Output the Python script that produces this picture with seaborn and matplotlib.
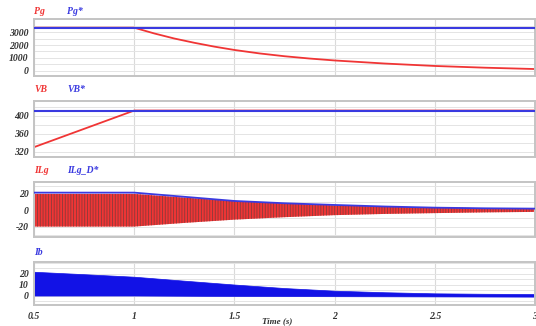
import numpy as np
import pandas as pd
import seaborn as sns
import matplotlib.pyplot as plt
from matplotlib.ticker import MultipleLocator

sns.set_theme(style="white")
plt.rcParams['font.family'] = ['Liberation Serif', 'DejaVu Serif']
plt.rcParams['hatch.linewidth'] = 0.6
plt.rcParams['axes.unicode_minus'] = False

# values
t_pg = [0.5, 1.0, 1.1, 1.2, 1.3, 1.4, 1.5, 1.625, 1.75, 1.875, 2.0, 2.25, 2.5, 2.75, 3.0]
pg = [3360, 3360, 2910, 2515, 2180, 1880, 1620, 1350, 1130, 950, 800, 560, 370, 235, 130]
pg_ref = 3360

t_vb = [0.5, 1.0, 3.0]
vb = [330, 412, 412]
vb_ref = 412

t_ilg = [0.5, 1.0, 1.25, 1.5, 1.75, 2.0, 2.25, 2.5, 2.75, 3.0]
ilg_amp = [20, 20, 15.5, 11.5, 8.5, 6.0, 4.5, 3.5, 2.6, 2.0]
ilg_ref = [21.6, 21.6, 16.5, 11.4, 8.6, 6.5, 4.6, 3.2, 2.4, 2.0]

t_ib = [0.5, 0.75, 1.0, 1.25, 1.5, 1.75, 2.0, 2.25, 2.5, 2.75, 3.0]
ib_hi = [21.6, 19.4, 17.1, 13.5, 10.0, 6.8, 4.4, 3.0, 2.0, 1.6, 1.4]
ib_lo = [0.0, 0.0, 0.0, -0.2, -0.4, -0.5, -0.6, -0.7, -0.8, -0.9, -1.0]

xticks = [0.5, 1, 1.5, 2, 2.5, 3]
xticklabels = ['0.5', '1', '1.5', '2', '2.5', '3']
pg_ticks = [0, 1000, 2000, 3000]
vb_ticks = [320, 360, 400]
ilg_ticks = [-20, 0, 20]
ib_ticks = [0, 10, 20]

RED = '#f03535'
BLUE = '#3a3ae0'
W, H = 536, 326

fig = plt.figure(figsize=(W / 100, H / 100), dpi=100)

def make_ax(top, bottom):
    return fig.add_axes([34 / W, 1 - bottom / H, 501 / W, (bottom - top) / H])

ax1 = make_ax(19.3, 76)
ax2 = make_ax(100.7, 157)
ax3 = make_ax(181.7, 236.7)
ax4 = make_ax(262.3, 305)

tfont = dict(fontsize=7, fontweight='bold', fontstyle='italic')

# Pg
df1 = pd.DataFrame({'t': t_pg, 'Pg': pg})
sns.lineplot(data=df1, x='t', y='Pg', ax=ax1, color=RED, lw=1.3)
ax1.axhline(pg_ref, color=BLUE, lw=1.5, zorder=3)
ax1.set_ylim(-414, 4015)
ax1.set_yticks(pg_ticks)
ax1.yaxis.set_minor_locator(MultipleLocator(500))

# VB
df2 = pd.DataFrame({'t': t_vb, 'VB': vb})
sns.lineplot(data=df2, x='t', y='VB', ax=ax2, color=RED, lw=1.3)
ax2.axhline(vb_ref, color=BLUE, lw=1.5, zorder=3)
ax2.set_ylim(308, 434)
ax2.set_yticks(vb_ticks)
ax2.yaxis.set_minor_locator(MultipleLocator(20))

# ILg
amp = np.array(ilg_amp)
ax3.fill_between(t_ilg, -amp, amp, facecolor=RED, edgecolor='#8a3a3a',
                 hatch='||||||', linewidth=0, zorder=2)
df3 = pd.DataFrame({'t': t_ilg, 'ref': ilg_ref})
sns.lineplot(data=df3, x='t', y='ref', ax=ax3, color=BLUE, lw=1.3, zorder=3)
ax3.set_ylim(-32.4, 35)
ax3.set_yticks(ilg_ticks)
ax3.yaxis.set_minor_locator(MultipleLocator(10))

# Ib
ax4.fill_between(t_ib, ib_lo, ib_hi, facecolor='#1212e6', edgecolor='#1212e6',
                 linewidth=0.5, zorder=2)
ax4.set_ylim(-8.6, 30.2)
ax4.set_yticks(ib_ticks)
ax4.yaxis.set_minor_locator(MultipleLocator(5))

for ax in (ax1, ax2, ax3, ax4):
    ax.set_xlim(0.5, 3)
    ax.set_xticks(xticks)
    ax.set_xlabel('')
    ax.set_ylabel('')
    ax.grid(True, which='both', axis='y', color='#e4e4e4', lw=0.7)
    ax.grid(True, which='major', axis='x', color='#dadada', lw=0.8)
    ax.set_axisbelow(True)
    for s in ax.spines.values():
        s.set_color('#c4c4c4')
        s.set_linewidth(1.4)
    ax.tick_params(length=0, which='both', pad=4)
    for lab in ax.get_yticklabels():
        lab.set_fontsize(7)
        lab.set_fontweight('bold')
        lab.set_fontstyle('italic')
        lab.set_color('#333333')

for ax in (ax1, ax2, ax3):
    ax.set_xticklabels([])

ax4.set_xticklabels(xticklabels, fontsize=7, fontweight='bold',
                    fontstyle='italic', color='#333333')
ax4.tick_params(axis='x', pad=5)

# panel titles
def title(y_px, x_px, text, color):
    fig.text(x_px / W, 1 - y_px / H, text, color=color, ha='left', va='center', **tfont)

title(11, 34, 'Pg', RED)
title(11, 67, 'Pg*', BLUE)
title(90, 34, 'VB', RED)
title(90, 67, 'VB*', BLUE)
title(170.5, 34, 'ILg', RED)
title(170.5, 67, 'ILg_D*', BLUE)
title(252.7, 34, 'Ib', BLUE)

fig.text(277 / W, 1 - 321 / H, 'Time (s)', ha='center', va='center',
         color='#333333', fontsize=6.5, fontweight='bold', fontstyle='italic')

fig.savefig('out.png', dpi=100)
